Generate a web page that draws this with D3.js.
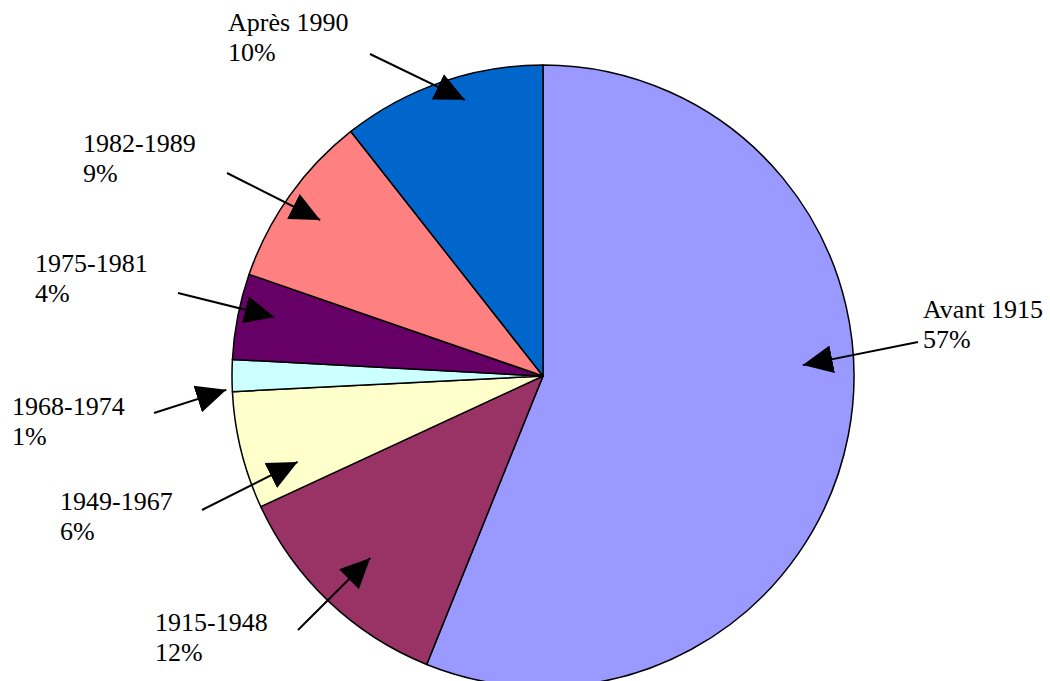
<!DOCTYPE html>
<html>
<head>
<meta charset="utf-8">
<script src="https://cdn.jsdelivr.net/npm/d3@7"></script>
<style>
  body { margin: 0; background: #fff; }
  text { font-family: "Liberation Serif", "Times New Roman", serif; font-size: 26px; fill: #000; }
</style>
</head>
<body>
<div id="chart"></div>
<script>
// data
const categories = ['Avant 1915', '1915-1948', '1949-1967', '1968-1974', '1975-1981', '1982-1989', 'Après 1990'];
const shares = [56.1, 12.0, 6.1, 1.65, 4.45, 9.1, 10.6];
const percentLabels = ['57%', '12%', '6%', '1%', '4%', '9%', '10%'];
const colors = ['#9999FF', '#993366', '#FFFFCC', '#CCFFFF', '#660066', '#FF8080', '#0066CC'];

const width = 1050;
const height = 681;
const center = {x: 543, y: 376};
const radius = 311;

// callouts: label anchor (x, first baseline) + arrow start + tip (angle deg, radius)
const callouts = [
    {lx: 923, ly: 318, sx: 918, sy: 342, tipA: 87.6, tipR: 260},
    {lx: 155, ly: 631, sx: 298, sy: 630, tipA: 223.5, tipR: 251},
    {lx: 60,  ly: 510, sx: 202, sy: 510, tipA: 250.7, tipR: 260},
    {lx: 12,  ly: 415, sx: 154, sy: 413, tipA: 267.5, tipR: 317},
    {lx: 35,  ly: 272, sx: 178, sy: 293, tipA: 282.4, tipR: 275},
    {lx: 83,  ly: 152, sx: 227, sy: 173, tipA: 305, tipR: 272},
    {lx: 228, ly: 31,  sx: 370, sy: 54,  tipA: 344.2, tipR: 287},
];

const svg = d3.select('div#chart').append('svg').attr('width', width).attr('height', height);

svg.append('defs').append('marker')
    .attr('id', 'head')
    .attr('viewBox', '0 -15 30 30')
    .attr('markerUnits', 'userSpaceOnUse')
    .attr('markerWidth', 30)
    .attr('markerHeight', 30)
    .attr('refX', 30)
    .attr('refY', 0)
    .attr('orient', 'auto')
    .append('path')
    .attr('d', 'M0,-14L30,0L0,14Z')
    .attr('fill', '#000');

const pie = d3.pie().sort(null).value(d => d);
const arc = d3.arc().innerRadius(0).outerRadius(radius);

const pieGroup = svg.append('g').attr('transform', `translate(${center.x},${center.y})`);
pieGroup.selectAll('path').data(pie(shares))
    .enter()
    .append('path')
    .attr('d', arc)
    .attr('fill', (d, i) => colors[i])
    .attr('stroke', '#000')
    .attr('stroke-width', 1.5)
    .attr('stroke-linejoin', 'round');

// arrows
const labelGroup = svg.append('g');
callouts.forEach((c, i) => {
    const [tx, ty] = d3.pointRadial(c.tipA * Math.PI / 180, c.tipR);
    labelGroup.append('line')
        .attr('x1', c.sx).attr('y1', c.sy)
        .attr('x2', center.x + tx).attr('y2', center.y + ty)
        .attr('stroke', '#000')
        .attr('stroke-width', 2)
        .attr('marker-end', 'url(#head)');

    const t = labelGroup.append('text').attr('x', c.lx).attr('y', c.ly);
    t.append('tspan').attr('x', c.lx).text(categories[i]);
    t.append('tspan').attr('x', c.lx).attr('dy', 30).text(percentLabels[i]);
});
</script>
</body>
</html>
